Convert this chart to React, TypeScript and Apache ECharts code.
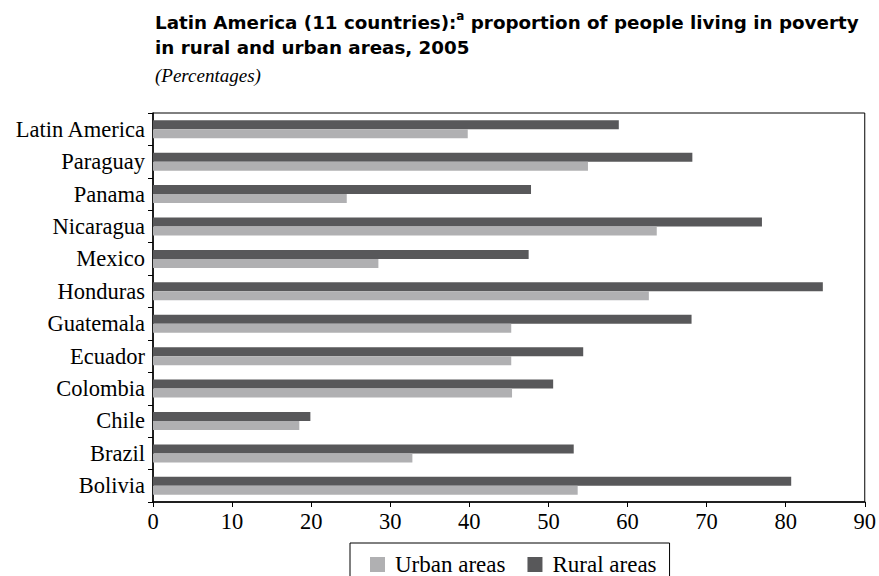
import React, { useEffect, useRef } from "react";
import * as echarts from "echarts";

const categories = ["Bolivia", "Brazil", "Chile", "Colombia", "Ecuador", "Guatemala", "Honduras", "Mexico", "Nicaragua", "Panama", "Paraguay", "Latin America"];
const urban = [53.7, 32.8, 18.5, 45.4, 45.3, 45.3, 62.7, 28.5, 63.7, 24.5, 55.0, 39.8];
const rural = [80.7, 53.2, 19.9, 50.6, 54.4, 68.1, 84.7, 47.5, 77.0, 47.8, 68.2, 58.9];
const xTicks = [0, 10, 20, 30, 40, 50, 60, 70, 80, 90];

const serif = "'Liberation Serif', 'DejaVu Serif', serif";
const sans = "'DejaVu Sans', 'Liberation Sans', Arial, sans-serif";

export default function App() {
  const ref = useRef<HTMLDivElement>(null);
  useEffect(() => {
    const chart = echarts.init(ref.current!, null, { renderer: "svg" });
    chart.setOption({
      animation: false,
      backgroundColor: "#ffffff",
      title: {
        left: 155,
        top: 10,
        padding: 0,
        text: "{b|Latin America (11 countries):}{sup|a}{b| proportion of people living in poverty}\n{b|in rural and urban areas, 2005}",
        textStyle: {
          rich: {
            b: { fontFamily: sans, fontWeight: "bold", fontSize: 18.3, color: "#000", lineHeight: 25 },
            sup: { fontFamily: sans, fontWeight: "bold", fontSize: 12, color: "#000", verticalAlign: "top", lineHeight: 25, padding: [0, 0, 8, 0] },
          },
        },
        subtext: "(Percentages)",
        subtextStyle: { fontFamily: serif, fontStyle: "italic", fontSize: 19, color: "#000", lineHeight: 22 },
        itemGap: 8,
      },
      legend: {
        data: ["Urban areas", "Rural areas"],
        left: 350,
        top: 543,
        orient: "horizontal",
        icon: "rect",
        itemWidth: 15,
        itemHeight: 15,
        itemGap: 22,
        borderColor: "#000",
        borderWidth: 1,
        borderRadius: 0,
        padding: [10, 13, 14, 20],
        textStyle: { fontFamily: serif, fontSize: 23, color: "#000", padding: [0, 0, 0, 5] },
      },
      grid: {
        left: 153,
        right: 10,
        top: 113,
        bottom: 74,
        show: true,
        borderColor: "#000",
        borderWidth: 1,
      },
      xAxis: {
        type: "value",
        min: 0,
        max: 90,
        interval: 10,
        axisLine: { show: true, lineStyle: { color: "#000", width: 1.5 } },
        axisTick: { show: true, length: 5, lineStyle: { color: "#000" } },
        axisLabel: {
          fontFamily: serif,
          fontSize: 22.5,
          color: "#000",
          margin: 8,
          formatter: (v: number) => (xTicks.includes(v) ? String(v) : ""),
        },
        splitLine: { show: false },
      },
      yAxis: {
        type: "category",
        data: categories,
        axisLine: { show: true, lineStyle: { color: "#000", width: 1.5 } },
        axisTick: { show: true, length: 5, lineStyle: { color: "#000" } },
        axisLabel: { fontFamily: serif, fontSize: 22.5, color: "#000", margin: 8 },
      },
      series: [
        {
          name: "Rural areas",
          type: "bar",
          data: rural,
          barWidth: 9,
          barGap: "0%",
          itemStyle: { color: "#58585a" },
        },
        {
          name: "Urban areas",
          type: "bar",
          data: urban,
          barWidth: 9,
          barGap: "0%",
          itemStyle: { color: "#b0b0b2" },
        },
      ],
    });
    return () => chart.dispose();
  }, []);
  return <div ref={ref} style={{ position: "absolute", left: 0, top: 0, width: 879, height: 576 }} />;
}
